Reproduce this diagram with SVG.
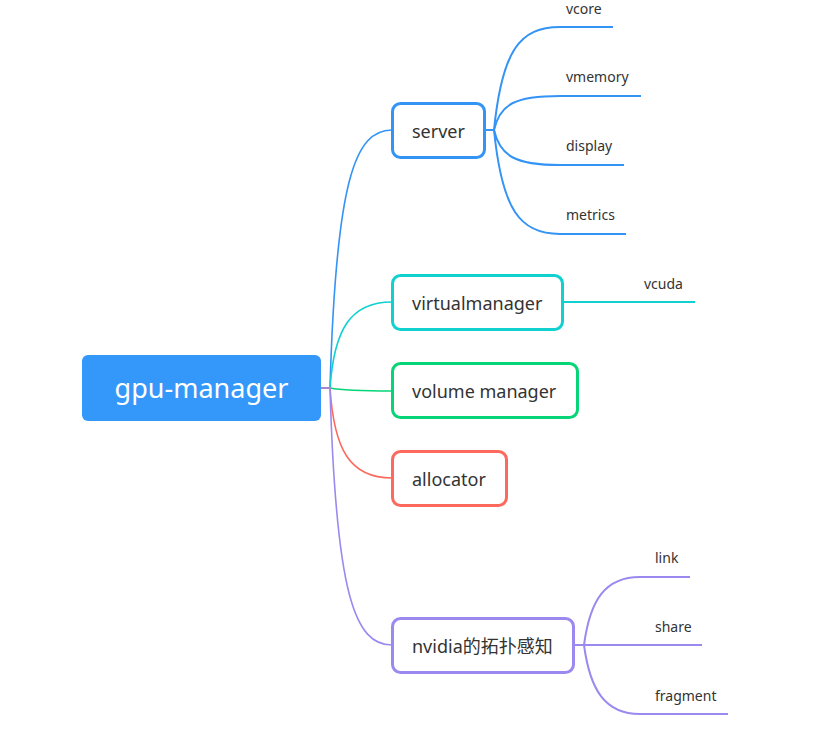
<svg xmlns="http://www.w3.org/2000/svg" width="822" height="735" viewBox="0 0 822 735">
<style>
  .node { fill: #ffffff; stroke-width: 3; }
  .t { font-family: "Noto Sans", "Noto Sans CJK SC", sans-serif; fill: #333333; font-size: 18px; }
  .leaf { font-family: "Noto Sans", "Noto Sans CJK SC", sans-serif; fill: #333333; font-size: 14px; }
  .c { fill: none; stroke-width: 1.6; }
  .l { fill: none; stroke-width: 2; }
  .blue { stroke: #3494f5; }
  .cyan { stroke: #10d0d0; }
  .green { stroke: #06d577; }
  .red { stroke: #fd6a5d; }
  .purple { stroke: #9c89ef; }
</style>
<rect width="822" height="735" fill="#ffffff"/>
<g id="connectors">
  <path class="c blue" d="M321,388 H330 C336,180 355,130 392,130"/>
  <path class="c cyan" d="M321,388 H330 C334,330 350,302 392,302"/>
  <path class="c green" d="M321,388 H330 C340,390 360,391 392,391"/>
  <path class="c red" d="M321,388 H330 C334,450 350,478 392,478"/>
  <path class="c purple" d="M321,388 H330 C336,596 355,645 392,645"/>
  <path class="l blue" d="M485,130 H494 C502,50 520,27 560,27 H613"/>
  <path class="l blue" d="M485,130 H494 C500,104 515,96 560,96 H641"/>
  <path class="l blue" d="M485,130 H494 C500,156 515,165 560,165 H624"/>
  <path class="l blue" d="M485,130 H494 C502,210 520,234 560,234 H626"/>
  <path class="l cyan" d="M563,302 H695"/>
  <path class="l purple" d="M574,645 H584 C590,600 605,577 640,577 H690"/>
  <path class="l purple" d="M574,645 H702"/>
  <path class="l purple" d="M574,645 H584 C590,690 605,714 640,714 H728"/>
</g>
<g id="root">
  <rect x="82" y="355" width="239" height="66" rx="6" fill="#3398fa"/>
  <text x="201.5" y="398" text-anchor="middle" font-family="Noto Sans, Noto Sans CJK SC, sans-serif" font-size="27" fill="#ffffff">gpu-manager</text>
</g>
<g id="server">
  <rect class="node blue" x="392.5" y="103.5" width="92" height="54" rx="8"/>
  <text class="t" x="412" y="138">server</text>
</g>
<g id="virtualmanager">
  <rect class="node cyan" x="392.5" y="275.5" width="170" height="54" rx="8"/>
  <text class="t" x="412" y="310">virtualmanager</text>
</g>
<g id="volume-manager">
  <rect class="node green" x="392.5" y="363.5" width="185" height="54" rx="8"/>
  <text class="t" x="412" y="398">volume manager</text>
</g>
<g id="allocator">
  <rect class="node red" x="392.5" y="451.5" width="114" height="54" rx="8"/>
  <text class="t" x="412" y="486">allocator</text>
</g>
<g id="nvidia">
  <rect class="node purple" x="392.5" y="618.5" width="181" height="54" rx="8"/>
  <text class="t" x="412" y="653">nvidia的拓扑感知</text>
</g>
<g id="leaf-vcore"><text class="leaf" x="566" y="14">vcore</text></g>
<g id="leaf-vmemory"><text class="leaf" x="566" y="82">vmemory</text></g>
<g id="leaf-display"><text class="leaf" x="566" y="151">display</text></g>
<g id="leaf-metrics"><text class="leaf" x="566" y="220">metrics</text></g>
<g id="leaf-vcuda"><text class="leaf" x="644" y="289">vcuda</text></g>
<g id="leaf-link"><text class="leaf" x="655" y="563">link</text></g>
<g id="leaf-share"><text class="leaf" x="655" y="632">share</text></g>
<g id="leaf-fragment"><text class="leaf" x="655" y="701">fragment</text></g>
</svg>
